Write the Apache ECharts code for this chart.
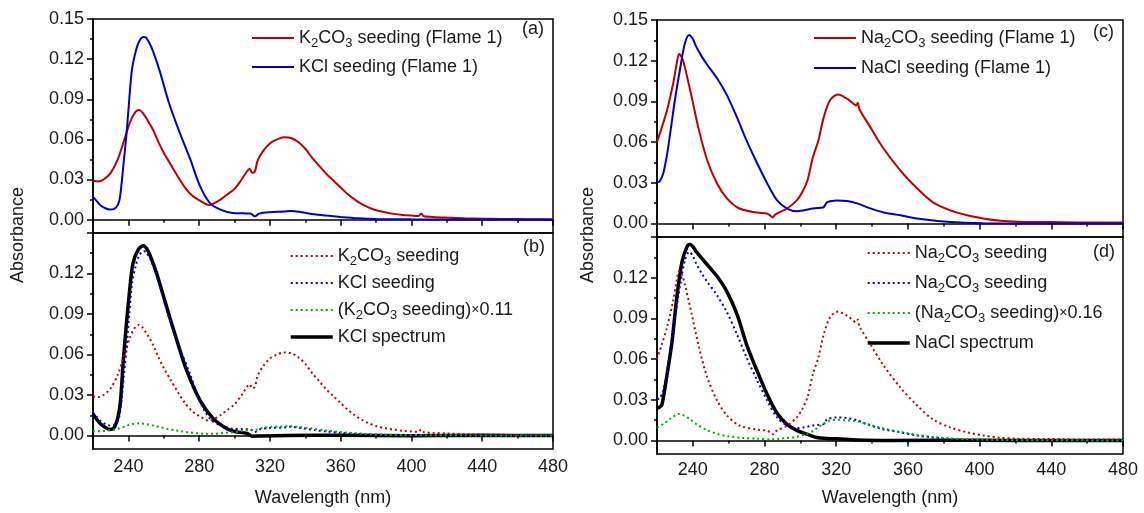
<!DOCTYPE html>
<html>
<head>
<meta charset="utf-8">
<script src="https://cdn.jsdelivr.net/npm/echarts@6/dist/echarts.min.js"></script>
<style>
  html, body { margin: 0; padding: 0; background: #fff; }
  #chart { width: 1144px; height: 513px; }
</style>
</head>
<body>
<div id="chart"></div>
<script>
// ---- data: [wavelength (nm), absorbance] ----
var k2co3Flame = [[220,0.029],[223,0.0285],[226,0.030],[230,0.035],[234,0.045],[238,0.061],[241,0.073],[244,0.0805],[246,0.082],[248,0.080],[251,0.074],[254,0.067],[257,0.058],[260,0.050],[264,0.041],[268,0.032],[272,0.024],[276,0.018],[280,0.0145],[284,0.0115],[286,0.011],[288,0.012],[292,0.015],[296,0.019],[300,0.023],[304,0.030],[307,0.036],[308.5,0.038],[310,0.035],[311.5,0.036],[313,0.044],[316,0.051],[320,0.057],[324,0.060],[328,0.0615],[332,0.061],[336,0.058],[340,0.053],[344,0.046],[348,0.040],[352,0.034],[356,0.029],[360,0.024],[364,0.019],[368,0.015],[372,0.0115],[376,0.009],[380,0.007],[385,0.0055],[390,0.0043],[395,0.0035],[400,0.003],[404,0.0027],[405.5,0.0045],[407,0.0025],[412,0.002],[420,0.0015],[430,0.001],[440,0.0007],[450,0.0005],[460,0.0004],[470,0.0003],[480,0.0003]];
var kclFlame = [[220,0.017],[222,0.014],[224,0.011],[227,0.0085],[229.5,0.0075],[232,0.008],[234,0.011],[235,0.015],[236,0.025],[237.5,0.045],[239,0.065],[240.5,0.09],[242,0.112],[244,0.125],[246,0.133],[248.5,0.1365],[250,0.136],[253,0.129],[257.5,0.112],[263,0.087],[269,0.065],[275,0.045],[280.5,0.025],[286,0.0125],[292,0.0075],[299,0.005],[305,0.0047],[309,0.0045],[311.5,0.0025],[314,0.0045],[320,0.0055],[328,0.006],[332,0.0065],[338,0.0055],[345,0.004],[352,0.003],[360,0.002],[370,0.001],[380,0.0005],[400,0.0002],[440,0.0001],[480,0]];
var k2co3Scaled = [[220,0.0032],[226,0.0033],[230,0.0039],[234,0.005],[238,0.0067],[242,0.0085],[246,0.009],[250,0.0085],[254,0.0074],[258,0.0062],[262,0.0049],[266,0.004],[270,0.0031],[274,0.0023],[278,0.0018],[284,0.0013],[288,0.0013],[292,0.0016],[296,0.0021],[300,0.0025],[304,0.0033],[308.5,0.0042],[310,0.0038],[312,0.004],[316,0.0056],[320,0.0063],[326,0.0067],[330,0.0068],[336,0.0064],[344,0.0051],[352,0.0037],[360,0.0026],[368,0.0017],[376,0.001],[385,0.0006],[395,0.0004],[410,0.0002],[430,0.0001],[480,0]];
var kclSpectrum = [[220,0.016],[224,0.009],[227,0.006],[229.5,0.0045],[232,0.006],[234,0.013],[235.5,0.025],[237,0.053],[238.5,0.077],[240,0.098],[242.5,0.127],[245.5,0.1375],[248.5,0.1405],[251,0.137],[253,0.131],[256,0.12],[261.7,0.095],[267.5,0.070],[273,0.048],[280.5,0.026],[288,0.0125],[295.7,0.005],[300,0.003],[307,0.0015],[310,-0.0005],[315,-0.0003],[330,0],[360,0.0002],[400,-0.0002],[440,0.0001],[480,0]];

var na2co3Flame = [[220,0.060],[222.5,0.070],[225.6,0.0835],[229,0.103],[231,0.118],[232.3,0.125],[234,0.122],[235.6,0.115],[237.5,0.104],[239.4,0.093],[243,0.071],[248,0.0466],[253.5,0.0295],[259,0.0185],[266,0.011],[276,0.008],[281.5,0.0072],[283,0.006],[284.5,0.0045],[286,0.0065],[288,0.008],[292.6,0.011],[298,0.017],[301,0.023],[304,0.032],[307,0.049],[310,0.061],[313,0.078],[316.6,0.091],[321,0.095],[326,0.092],[329,0.089],[331,0.087],[332,0.089],[333,0.084],[339,0.071],[346,0.056],[355.8,0.039],[365,0.026],[374,0.0155],[383.6,0.0096],[393,0.006],[402,0.0037],[411.6,0.002],[421,0.0013],[440,0.001],[460,0.0007],[480,0.0007]];
var naclFlame = [[220,0.0305],[221.5,0.031],[223.5,0.037],[225.5,0.050],[227.3,0.066],[230,0.091],[233,0.115],[235.6,0.133],[238,0.139],[240,0.136],[242,0.130],[245,0.123],[248,0.117],[253.5,0.107],[259,0.0946],[264.7,0.078],[270,0.061],[276,0.044],[281.5,0.0295],[287,0.017],[292.6,0.011],[298,0.009],[301.6,0.0096],[307,0.011],[311,0.0116],[313,0.012],[315,0.0157],[320.5,0.017],[326,0.0165],[331.7,0.0148],[337,0.012],[346,0.0083],[355.8,0.006],[365,0.0036],[383.6,0.001],[402,0.0002],[440,0],[480,0]];
var na2co3Scaled = [[220,0.0093],[224,0.0125],[228,0.0165],[232,0.0195],[235,0.0185],[238,0.016],[242,0.012],[248,0.0075],[254,0.0047],[260,0.003],[268,0.0018],[276,0.0013],[284,0.0009],[288,0.0011],[292,0.0017],[298,0.0027],[304,0.005],[308,0.0078],[312,0.0115],[316,0.0145],[321,0.0152],[326,0.0147],[332,0.014],[339,0.0114],[346,0.009],[356,0.0062],[365,0.0042],[374,0.0025],[384,0.0015],[393,0.001],[402,0.0006],[420,0.0002],[440,0.0001],[480,0]];
var naclSpectrum = [[220,0.0238],[221.5,0.0245],[222.8,0.0265],[225.6,0.0485],[228.4,0.073],[231,0.105],[234,0.132],[236.8,0.143],[238.4,0.1445],[240,0.143],[242,0.139],[248,0.1296],[253.5,0.121],[259,0.1097],[264.7,0.0928],[270,0.0707],[276,0.0508],[281.5,0.0339],[287,0.020],[292.6,0.0118],[298,0.0074],[304,0.0044],[309,0.0022],[314,0.0015],[320.5,0.0012],[331.7,0.0003],[350,0],[400,0.0001],[440,-0.0001],[480,0]];

var xMajor = [240, 280, 320, 360, 400, 440, 480];
var xMinor = [220, 260, 300, 340, 380, 420, 460];
var yMajor = [0, 0.03, 0.06, 0.09, 0.12, 0.15];
var yMajorLower = [0, 0.03, 0.06, 0.09, 0.12];
var yMinor = [0.015, 0.045, 0.075, 0.105, 0.135];

var legendText = {
  a1: '{n|K}{s|2}{n|CO}{s|3}{n| seeding (Flame 1)}',
  a2: '{n|KCl seeding (Flame 1)}',
  b1: '{n|K}{s|2}{n|CO}{s|3}{n| seeding}',
  b2: '{n|KCl seeding}',
  b3: '{n|(K}{s|2}{n|CO}{s|3}{n| seeding)}{x|×}{n|0.11}',
  b4: '{n|KCl spectrum}',
  c1: '{n|Na}{s|2}{n|CO}{s|3}{n| seeding (Flame 1)}',
  c2: '{n|NaCl seeding (Flame 1)}',
  d1: '{n|Na}{s|2}{n|CO}{s|3}{n| seeding}',
  d2: '{n|Na}{s|2}{n|CO}{s|3}{n| seeding}',
  d3: '{n|(Na}{s|2}{n|CO}{s|3}{n| seeding)}{x|×}{n|0.16}',
  d4: '{n|NaCl spectrum}'
};

var font = '"Liberation Sans", Arial, sans-serif';
var fs = 18;
var ink = '#1a1a1a';
var red = '#c00000', blue = '#0000c8', green = '#00b000', black = '#000';

var grids = [
  { left: 93, top: 19, width: 460, height: 214 },
  { left: 93, top: 233, width: 460, height: 216 },
  { left: 657, top: 20, width: 466, height: 217 },
  { left: 657, top: 237, width: 466, height: 217 }
];

var xAxes = [], yAxes = [];
grids.forEach(function(g, i) {
  var bottomPanel = (i % 2 === 1);
  xAxes.push({
    type: 'value', gridIndex: i, min: 220, max: 480, position: 'bottom',
    axisLine: { lineStyle: { color: black, width: 1.5 } },
    axisTick: { customValues: xMajor, length: 6, lineStyle: { color: black, width: 1.5 } },
    axisLabel: { show: bottomPanel, customValues: xMajor, margin: i === 1 ? 9 : 7, fontSize: fs, fontFamily: font, color: ink },
    splitLine: { show: false },
    name: bottomPanel ? 'Wavelength (nm)' : '',
    nameLocation: 'middle', nameGap: i === 1 ? 40 : 35,
    nameTextStyle: { fontSize: fs, fontFamily: font, color: ink }
  });
  // minor x ticks
  xAxes.push({
    type: 'value', gridIndex: i, min: 220, max: 480, position: 'bottom',
    axisLine: { show: false },
    axisTick: { customValues: xMinor, length: 3, lineStyle: { color: black, width: 1.5 } },
    axisLabel: { show: false },
    splitLine: { show: false }
  });
  yAxes.push({
    type: 'value', gridIndex: i, min: -0.01, max: 0.15, position: 'left',
    axisLine: { show: true, lineStyle: { color: black, width: 1.5 } },
    axisTick: { show: true, customValues: yMajor, length: 6, lineStyle: { color: black, width: 1.5 } },
    axisLabel: {
      customValues: bottomPanel ? yMajorLower : yMajor, margin: 9,
      fontSize: fs, fontFamily: font, color: ink,
      formatter: function(v) { return v.toFixed(2); }
    },
    splitLine: { show: false }
  });
  // minor y ticks
  yAxes.push({
    type: 'value', gridIndex: i, min: -0.01, max: 0.15, position: 'left',
    axisLine: { show: false },
    axisTick: { show: true, customValues: yMinor, length: 3, lineStyle: { color: black, width: 1.5 } },
    axisLabel: { show: false },
    splitLine: { show: false }
  });
});

function line(name, data, grid, color, width, dotted) {
  return {
    name: name, type: 'line', data: data,
    xAxisIndex: grid * 2, yAxisIndex: grid * 2,
    symbol: 'none', smooth: 0.3, z: dotted ? 3 : 2,
    lineStyle: { color: color, width: width, type: dotted ? [2, 3] : 'solid' },
    itemStyle: { color: color }
  };
}

function legend(names, left, top, gap) {
  return {
    data: names.map(function(n) {
      return (n === 'b4' || n === 'd4') ? { name: n, lineStyle: { width: 3.5 } } : n;
    }),
    orient: 'vertical', left: left, top: top, padding: 0,
    itemWidth: 42, itemHeight: 10, itemGap: gap,
    itemStyle: { opacity: 0 },
    formatter: function(n) { return legendText[n]; },
    textStyle: {
      fontSize: fs, fontFamily: font, color: ink, lineHeight: 24,
      rich: {
        n: { fontSize: fs, fontFamily: font, color: ink, lineHeight: 24 },
        x: { fontSize: 14, fontFamily: font, color: ink, lineHeight: 24 },
        s: { fontSize: 13, fontFamily: font, color: ink, lineHeight: 13, verticalAlign: 'bottom' }
      }
    }
  };
}

function label(text, x, y) {
  return { type: 'text', left: x, top: y, style: { text: text, fontSize: fs, fontFamily: font, fill: ink } };
}

var chart = echarts.init(document.getElementById('chart'), null, { renderer: 'canvas' });
chart.setOption({
  animation: false,
  backgroundColor: '#fff',
  grid: grids.map(function(g) {
    return { left: g.left, top: g.top, width: g.width, height: g.height, show: true, borderColor: black, borderWidth: 1.5, backgroundColor: 'transparent' };
  }),
  xAxis: xAxes,
  yAxis: yAxes,
  legend: [
    legend(['a1', 'a2'], 251, 26, 5),
    legend(['b1', 'b2', 'b3', 'b4'], 289, 244, 3),
    legend(['c1', 'c2'], 813, 26, 6),
    legend(['d1', 'd2', 'd3', 'd4'], 866, 241, 6)
  ],
  graphic: [
    label('(a)', 522, 20),
    label('(b)', 523, 238),
    label('(c)', 1093, 23),
    label('(d)', 1093, 243),
    { type: 'text', x: 18, y: 235, rotation: Math.PI / 2,
      style: { text: 'Absorbance', fontSize: fs, fontFamily: font, fill: ink, align: 'center', verticalAlign: 'middle' } },
    { type: 'text', x: 588, y: 235, rotation: Math.PI / 2,
      style: { text: 'Absorbance', fontSize: fs, fontFamily: font, fill: ink, align: 'center', verticalAlign: 'middle' } }
  ],
  series: [
    line('a1', k2co3Flame, 0, red, 2, false),
    line('a2', kclFlame, 0, blue, 2, false),
    line('b1', k2co3Flame, 1, red, 2, true),
    line('b2', kclFlame, 1, blue, 2, true),
    line('b3', k2co3Scaled, 1, green, 2, true),
    line('b4', kclSpectrum, 1, black, 3.5, false),
    line('c1', na2co3Flame, 2, red, 2, false),
    line('c2', naclFlame, 2, blue, 2, false),
    line('d1', na2co3Flame, 3, red, 2, true),
    line('d2', naclFlame, 3, blue, 2, true),
    line('d3', na2co3Scaled, 3, green, 2, true),
    line('d4', naclSpectrum, 3, black, 3.5, false)
  ]
});
window.addEventListener('resize', function() { chart.resize(); });
</script>
</body>
</html>
